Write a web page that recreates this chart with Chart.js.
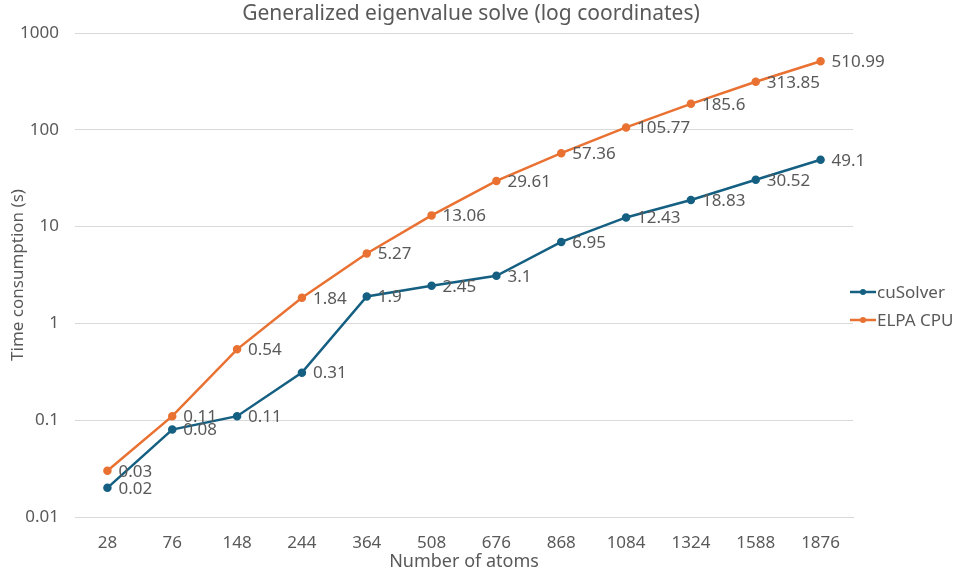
<!DOCTYPE html>
<html>
<head>
<meta charset="utf-8">
<script src="https://cdn.jsdelivr.net/npm/chart.js@4/dist/chart.umd.min.js"></script>
<style>
  html, body { margin: 0; padding: 0; background: #fff; }
  #wrap { width: 961px; height: 573px; position: relative; }
</style>
</head>
<body>
<div id="wrap"><canvas id="eigChart"></canvas></div>
<script>
// chart data
const atoms = ["28", "76", "148", "244", "364", "508", "676", "868", "1084", "1324", "1588", "1876"];
const cuSolver = [0.02, 0.08, 0.11, 0.31, 1.9, 2.45, 3.1, 6.95, 12.43, 18.83, 30.52, 49.1];
const elpaCpu = [0.03, 0.11, 0.54, 1.84, 5.27, 13.06, 29.61, 57.36, 105.77, 185.6, 313.85, 510.99];
const yTicks = [0.01, 0.1, 1, 10, 100, 1000];

const FONT = "'Noto Sans', sans-serif";
const TEXT = "#595959";
const BLUE = "#156082";
const ORANGE = "#E97132";

// value labels to the right of each point
const pointLabels = {
  id: "pointLabels",
  afterDatasetsDraw(chart) {
    const ctx = chart.ctx;
    ctx.save();
    ctx.font = "17px " + FONT;
    ctx.fillStyle = TEXT;
    ctx.textAlign = "left";
    ctx.textBaseline = "middle";
    chart.data.datasets.forEach(function (ds, i) {
      chart.getDatasetMeta(i).data.forEach(function (pt, j) {
        ctx.fillText(String(ds.data[j]), pt.x + 11, pt.y + 1);
      });
    });
    ctx.restore();
  }
};

// title + legend (line with dot marker)
const extras = {
  id: "extras",
  afterDraw(chart) {
    const ctx = chart.ctx;
    ctx.save();
    ctx.fillStyle = TEXT;
    ctx.font = "21px " + FONT;
    ctx.textAlign = "center";
    ctx.textBaseline = "middle";
    ctx.fillText("Generalized eigenvalue solve (log coordinates)", 471, 14);

    ctx.font = "17px " + FONT;
    ctx.textAlign = "left";
    const items = [["cuSolver", BLUE, 292], ["ELPA CPU", ORANGE, 320]];
    items.forEach(function (it) {
      ctx.strokeStyle = it[1];
      ctx.fillStyle = it[1];
      ctx.lineWidth = 2.5;
      ctx.beginPath();
      ctx.moveTo(850, it[2]);
      ctx.lineTo(876, it[2]);
      ctx.stroke();
      ctx.beginPath();
      ctx.arc(863, it[2], 3, 0, Math.PI * 2);
      ctx.fill();
      ctx.fillStyle = TEXT;
      ctx.fillText(it[0], 877, it[2] + 1);
    });
    ctx.restore();
  }
};

const ctx = document.getElementById("eigChart").getContext("2d");
new Chart(ctx, {
  type: "line",
  data: {
    labels: atoms,
    datasets: [
      {
        label: "cuSolver",
        data: cuSolver,
        borderColor: BLUE,
        backgroundColor: BLUE,
        borderWidth: 2.5,
        pointRadius: 3,
        pointHoverRadius: 3,
        tension: 0,
      },
      {
        label: "ELPA CPU",
        data: elpaCpu,
        borderColor: ORANGE,
        backgroundColor: ORANGE,
        borderWidth: 2.5,
        pointRadius: 3,
        pointHoverRadius: 3,
        tension: 0,
      },
    ],
  },
  options: {
    responsive: true,
    maintainAspectRatio: false,
    animation: false,
    layout: {
      padding: { top: 33, right: 108, left: 8, bottom: 0 },
    },
    plugins: {
      legend: { display: false },
      title: { display: false },
      tooltip: { enabled: false },
    },
    scales: {
      x: {
        offset: true,
        grid: { display: false, offset: true },
        border: { display: true, color: "#d9d9d9", width: 1 },
        ticks: {
          color: TEXT,
          padding: 8,
          font: { family: FONT, size: 17 },
        },
        title: {
          display: true,
          text: "Number of atoms",
          color: TEXT,
          padding: { top: 0, bottom: 0 },
          font: { family: FONT, size: 18 },
        },
        afterFit: function (scale) {
          scale.height = 56;
        },
      },
      y: {
        type: "logarithmic",
        min: 0.01,
        max: 1000,
        grid: { color: "#d9d9d9", drawTicks: false },
        border: { display: false },
        afterBuildTicks: function (scale) {
          scale.ticks = yTicks.map(function (v) { return { value: v }; });
        },
        ticks: {
          color: TEXT,
          padding: 16,
          font: { family: FONT, size: 17 },
          callback: function (v) { return String(v); },
        },
        title: {
          display: true,
          text: "Time consumption (s)",
          color: TEXT,
          padding: { top: 0, bottom: 2 },
          font: { family: FONT, size: 17 },
        },
        afterFit: function (scale) {
          scale.width = 67;
        },
      },
    },
  },
  plugins: [pointLabels, extras],
});
</script>
</body>
</html>
